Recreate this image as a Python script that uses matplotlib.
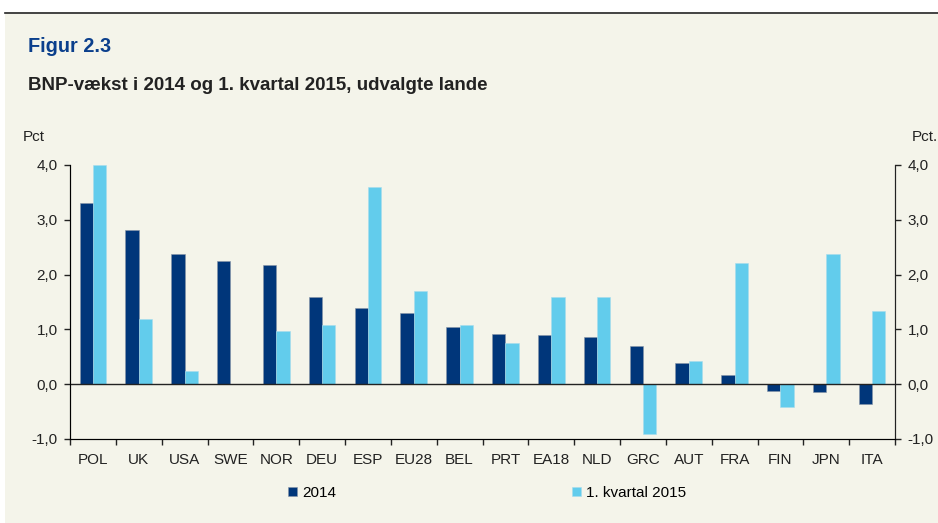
import numpy as np
import matplotlib.pyplot as plt
from matplotlib.patches import Rectangle
from matplotlib.lines import Line2D

plt.rcParams['font.family'] = ['Liberation Sans', 'DejaVu Sans']

lande = ['POL', 'UK', 'USA', 'SWE', 'NOR', 'DEU', 'ESP', 'EU28', 'BEL',
         'PRT', 'EA18', 'NLD', 'GRC', 'AUT', 'FRA', 'FIN', 'JPN', 'ITA']
vaekst_2014 = [3.30, 2.81, 2.38, 2.24, 2.17, 1.60, 1.39, 1.30, 1.05,
               0.91, 0.89, 0.87, 0.69, 0.38, 0.16, -0.13, -0.15, -0.37]
vaekst_k1_2015 = [4.00, 1.19, 0.24, 0.00, 0.97, 1.08, 3.60, 1.70, 1.08,
                  0.75, 1.60, 1.60, -0.91, 0.43, 2.21, -0.41, 2.37, 1.33]
yticks = [-1.0, 0.0, 1.0, 2.0, 3.0, 4.0]

bg = '#F4F4EA'
dark = '#00367A'
light = '#62CCEC'
txt = '#222222'
fs = 11

W, H = 938, 523
fig = plt.figure(figsize=(W / 100, H / 100), dpi=100, facecolor='white')

# baggrund og linje i toppen
fig.patches.append(Rectangle((5 / W, 0), 1, (H - 14) / H, transform=fig.transFigure,
                             facecolor=bg, edgecolor='none', zorder=-10))
fig.lines.append(Line2D([5 / W, 1], [(H - 13) / H] * 2, transform=fig.transFigure,
                        color=txt, lw=1.2, zorder=-9))

ax = fig.add_axes([70 / W, (H - 439) / H, 825 / W, 274 / H])
ax.set_facecolor(bg)

x = np.arange(len(lande))
bw = 0.29
ax.bar(x - bw / 2, vaekst_2014, bw, color=dark, edgecolor='#8894A8', linewidth=0.4,
       label='2014', zorder=2)
ax.bar(x + bw / 2, vaekst_k1_2015, bw, color=light, edgecolor='#A8DCEC', linewidth=0.4,
       label='1. kvartal 2015', zorder=2)
ax.axhline(0, color=txt, lw=1.0, zorder=3)

ax.set_xlim(-0.5, len(lande) - 0.5)
ax.set_ylim(-1, 4)
ax.set_yticks(yticks)
ax.set_yticklabels([f'{v:.1f}'.replace('.', ',') for v in yticks])
ax.set_xticks(x)
ax.set_xticklabels(lande)
ax.set_xticks(np.arange(-0.5, len(lande)), minor=True)
ax.tick_params(axis='x', which='major', length=0, pad=10, labelsize=fs, colors=txt)
ax.tick_params(axis='x', which='minor', length=4, width=1, color=txt)
ax.tick_params(axis='y', length=4, width=1, labelsize=fs, pad=5, colors=txt)
ax.spines['top'].set_visible(False)
for s in ['left', 'right', 'bottom']:
    ax.spines[s].set_color(txt)

ax2 = ax.twinx()
ax2.set_ylim(-1, 4)
ax2.set_yticks(yticks)
ax2.set_yticklabels([f'{v:.1f}'.replace('.', ',') for v in yticks])
ax2.tick_params(axis='y', length=4, width=1, labelsize=fs, pad=5, colors=txt)
ax2.spines['top'].set_visible(False)
ax2.spines['right'].set_color(txt)

fig.text(28 / W, 1 - 47 / H, 'Figur 2.3', fontsize=14.3, fontweight='bold',
         color='#0B3F8C', va='center')
fig.text(28 / W, 1 - 85 / H, 'BNP-vækst i 2014 og 1. kvartal 2015, udvalgte lande',
         fontsize=13.5, fontweight='bold', color=txt, va='center')
fig.text(23 / W, 1 - 137 / H, 'Pct', fontsize=fs, color=txt, va='center')
fig.text(912 / W, 1 - 137 / H, 'Pct.', fontsize=fs, color=txt, va='center')

h, l = ax.get_legend_handles_labels()
fig.legend([h[0]], [l[0]], loc='center left', bbox_to_anchor=(288 / W, 1 - 493 / H),
           frameon=False, fontsize=fs, handlelength=0.6, handleheight=0.6,
           handletextpad=0.3, borderaxespad=0, borderpad=0)
fig.legend([h[1]], [l[1]], loc='center left', bbox_to_anchor=(572 / W, 1 - 493 / H),
           frameon=False, fontsize=fs, handlelength=0.6, handleheight=0.6,
           handletextpad=0.3, borderaxespad=0, borderpad=0)

fig.savefig('out.png', dpi=100, facecolor=fig.get_facecolor())
